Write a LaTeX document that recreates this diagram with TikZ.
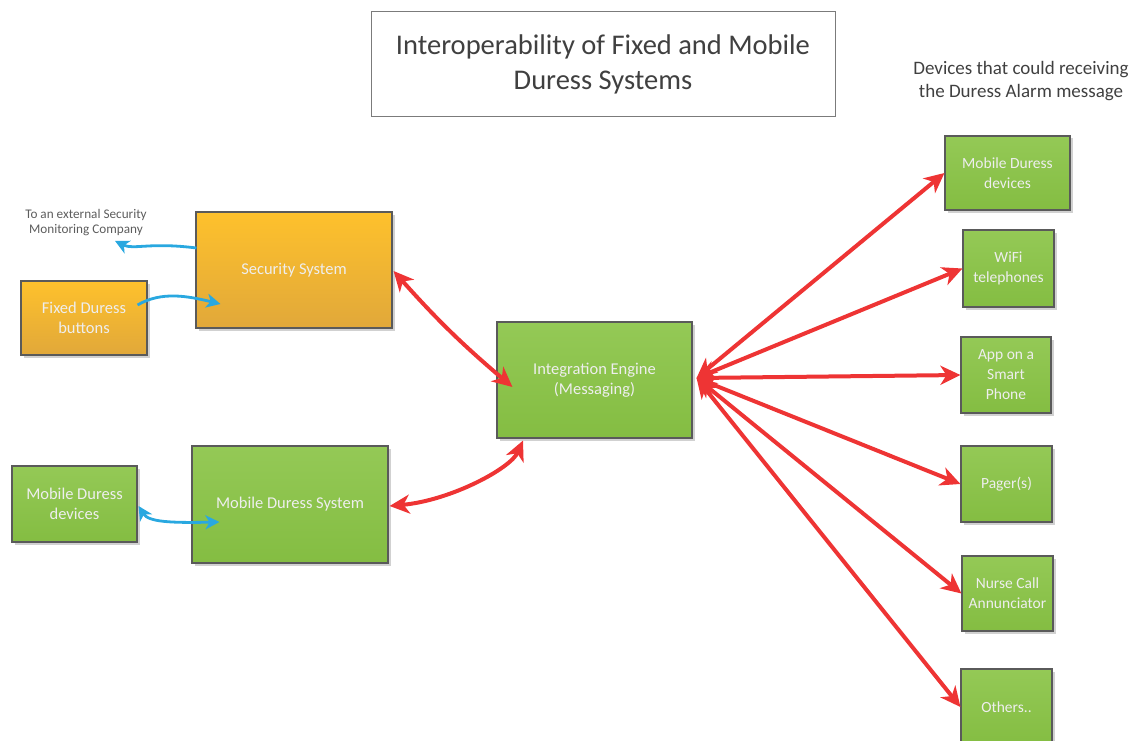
\documentclass[tikz,border=0pt]{standalone}
\usepackage{fontspec}
\setmainfont{Carlito}
\usetikzlibrary{arrows.meta,shadows,calc}

\definecolor{greenTop}{RGB}{148,201,86}
\definecolor{greenBot}{RGB}{132,189,66}
\definecolor{orangeTop}{RGB}{254,193,44}
\definecolor{orangeBot}{RGB}{225,168,58}
\definecolor{boxLine}{RGB}{90,90,90}
\definecolor{boxText}{RGB}{238,238,238}
\definecolor{darkText}{RGB}{64,64,64}
\definecolor{linkRed}{RGB}{238,52,52}
\definecolor{linkBlue}{RGB}{41,168,224}

\begin{document}
\begin{tikzpicture}[x=1pt,y=-1pt,
  unit/.style={draw=boxLine, line width=1.1pt, inner sep=0pt, align=center,
    text=boxText,
    drop shadow={shadow xshift=2.5pt, shadow yshift=-2.5pt, opacity=0.18, fill=black}},
  greenunit/.style={unit, top color=greenTop, bottom color=greenBot},
  orangeunit/.style={unit, top color=orangeTop, bottom color=orangeBot},
  bigtext/.style={font=\fontsize{16.5}{20}\selectfont},
  smalltext/.style={font=\fontsize{15.5}{20}\selectfont},
  redlink/.style={draw=linkRed, line width=4pt,
    {Stealth[length=20pt,width=19pt,inset=6pt]}-{Stealth[length=20pt,width=19pt,inset=6pt]}},
  bluelink/.style={draw=linkBlue, line width=2.8pt},
  note/.style={text=darkText, align=center, inner sep=0pt}
]
\useasboundingbox (0,0) rectangle (1138,741);
\clip (0,0) rectangle (1138,741);

% title
\node[draw=boxLine!80, line width=1pt, fill=white, minimum width=464pt, minimum height=105pt,
      note, font=\fontsize{28.5}{35}\selectfont] (title) at (603,64)
  {Interoperability of Fixed and Mobile\\Duress Systems};

\node[note, font=\fontsize{19}{23}\selectfont] (devlabel) at (1021,81)
  {Devices that could receiving\\the Duress Alarm message};

% left side: fixed duress chain
\node[orangeunit, bigtext, minimum width=196pt, minimum height=116pt] (sec) at (294,270) {Security System};
\node[orangeunit, bigtext, minimum width=126pt, minimum height=74pt] (fixed) at (84,318) {Fixed Duress\\buttons};
\node[note, text=darkText!85, font=\fontsize{13.2}{15}\selectfont] (ext) at (86,222.5)
  {To an external Security\\Monitoring Company};

% left side: mobile duress chain
\node[greenunit, bigtext, minimum width=196pt, minimum height=117pt] (mds) at (290,504.5) {Mobile Duress System};
\node[greenunit, bigtext, minimum width=125pt, minimum height=76pt] (mdl) at (74.5,504) {Mobile Duress\\devices};

% integration engine
\node[greenunit, bigtext, minimum width=195pt, minimum height=116pt] (eng) at (594.5,380) {Integration Engine\\(Messaging)};

% receiving devices
\node[greenunit, smalltext, minimum width=125pt, minimum height=74pt] (r1) at (1007.5,173) {Mobile Duress\\devices};
\node[greenunit, smalltext, minimum width=91pt, minimum height=77pt] (r2) at (1008.5,268.5) {WiFi\\telephones};
\node[greenunit, smalltext, minimum width=90pt, minimum height=76pt] (r3) at (1006,375) {App on a\\Smart\\Phone};
\node[greenunit, smalltext, minimum width=91pt, minimum height=76pt] (r4) at (1006.5,484) {Pager(s)};
\node[greenunit, smalltext, minimum width=91pt, minimum height=75pt] (r5) at (1007.5,593.5) {Nurse Call\\Annunciator};
\node[greenunit, smalltext, minimum width=91pt, minimum height=76pt] (r6) at (1006.5,707) {Others..};

% blue local links
\draw[bluelink, -{Stealth[length=14pt,width=14pt,inset=4pt]}]
  ($(sec.west)+(1,-22)$) .. controls ($(sec.west)+(-46,-28)$) and ($(sec.west)+(-62,-20)$) .. ($(ext.south)+(29,5)$);
\draw[bluelink, -{Stealth[length=14pt,width=14pt,inset=4pt]}]
  ($(fixed.east)+(-10,-13)$) .. controls ($(fixed.east)+(14,-27)$) and ($(fixed.east)+(40,-22)$) .. ($(sec.west)+(25,34)$);
\draw[bluelink, {Stealth[length=14pt,width=14pt,inset=4pt]}-{Stealth[length=14pt,width=14pt,inset=4pt]}]
  ($(mdl.east)+(1,2)$) .. controls ($(mdl.east)+(11,18)$) and ($(mdl.east)+(33,19)$) .. ($(mds.west)+(28,17.5)$);

% red links to the engine
\draw[redlink] ($(sec.east)+(1,1)$) to[bend right=4] ($(eng.west)+(16,7)$);
\draw[redlink] ($(mds.east)+(1,1.5)$) .. controls ($(mds.east)+(62,-4)$) and ($(eng.south)+(-84,30)$) .. ($(eng.south)+(-71.5,2)$);

% fan-out from the engine
\coordinate (hub) at ($(eng.east)+(4,-2)$);
\foreach \r in {r1,r2,r3,r4,r5,r6}
  \draw[redlink] (hub) -- (\r.west);
\end{tikzpicture}
\end{document}
